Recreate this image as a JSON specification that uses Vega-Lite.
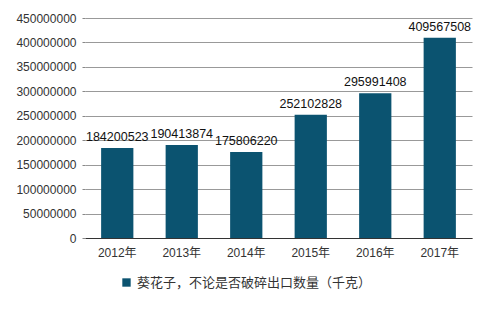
{
  "$schema": "https://vega.github.io/schema/vega-lite/v6.json",
  "width": 387,
  "height": 220,
  "autosize": {"type": "none"},
  "padding": {"left": 85, "top": 18, "right": 20, "bottom": 72},
  "background": "white",
  "config": {
    "view": {"stroke": null},
    "font": "Liberation Sans, Noto Sans CJK SC",
    "axis": {"labelFont": "Liberation Sans, Noto Sans CJK SC", "labelFontSize": 12, "labelColor": "#333333"}
  },
  "data": {
    "values": [
      {"year": "2012年", "value": 184200523, "series": "葵花子，不论是否破碎出口数量（千克）"},
      {"year": "2013年", "value": 190413874, "series": "葵花子，不论是否破碎出口数量（千克）"},
      {"year": "2014年", "value": 175806220, "series": "葵花子，不论是否破碎出口数量（千克）"},
      {"year": "2015年", "value": 252102828, "series": "葵花子，不论是否破碎出口数量（千克）"},
      {"year": "2016年", "value": 295991408, "series": "葵花子，不论是否破碎出口数量（千克）"},
      {"year": "2017年", "value": 409567508, "series": "葵花子，不论是否破碎出口数量（千克）"}
    ]
  },
  "encoding": {
    "x": {
      "field": "year", "type": "nominal", "title": null,
      "scale": {"paddingInner": 0.5, "paddingOuter": 0.25},
      "axis": {"labelAngle": 0, "ticks": false, "domain": true, "domainColor": "#333333", "domainWidth": 1, "labelPadding": 9, "grid": false}
    },
    "y": {
      "field": "value", "type": "quantitative", "title": null,
      "scale": {"domain": [0, 450000000], "nice": false},
      "axis": {"values": [0, 50000000, 100000000, 150000000, 200000000, 250000000, 300000000, 350000000, 400000000, 450000000],
        "format": "d", "domain": false, "ticks": true, "tickSize": 3, "tickColor": "#888888", "labelPadding": 6,
        "grid": true, "gridColor": "#999999", "gridWidth": 1}
    }
  },
  "layer": [
    {
      "mark": {"type": "bar", "color": "#0B5370"},
      "encoding": {
        "color": {"field": "series", "type": "nominal", "scale": {"range": ["#0B5370"]},
          "legend": {"title": null, "orient": "none", "legendX": 35, "legendY": 258, "symbolType": "square", "symbolSize": 70,
            "labelFontSize": 13, "labelLimit": 0, "labelColor": "#333333", "labelFont": "Liberation Sans, Noto Sans CJK SC", "symbolStrokeWidth": 0}}
      }
    },
    {
      "mark": {"type": "text", "baseline": "bottom", "dy": -4, "fontSize": 12.5, "color": "#111111"},
      "encoding": {"text": {"field": "value", "type": "quantitative", "format": "d"}}
    }
  ]
}
